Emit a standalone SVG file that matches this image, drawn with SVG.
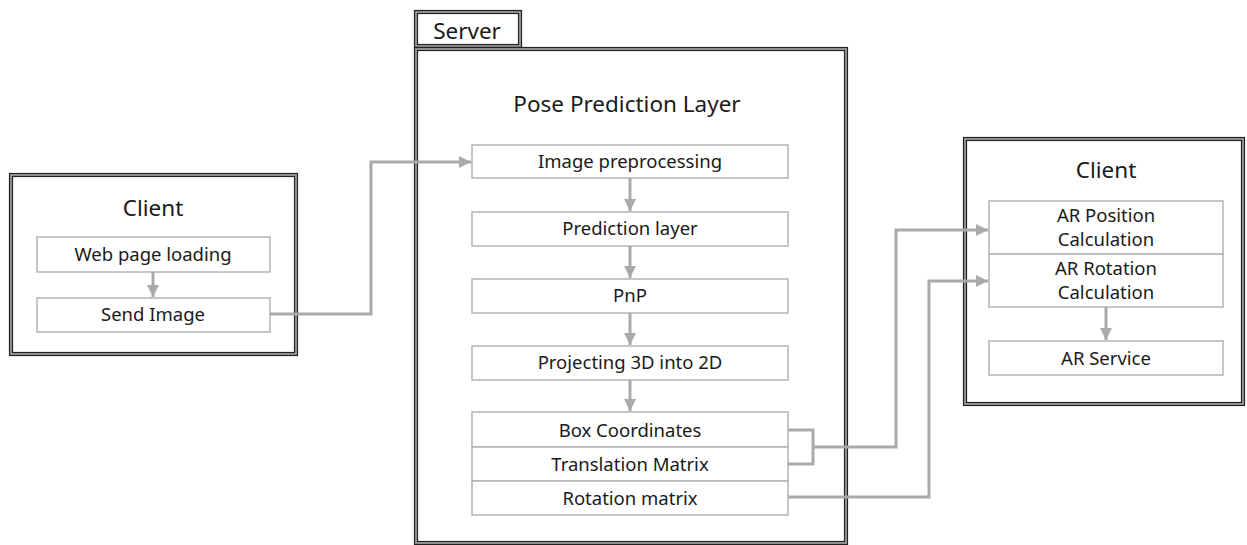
<svg xmlns="http://www.w3.org/2000/svg" width="1247" height="545" viewBox="0 0 1247 545">
<style>
.band{fill:none;stroke:#9a9a9a;stroke-width:4}
.dk{fill:none;stroke:#222;stroke-width:1.2}
.box{fill:#fff;stroke:#b4b4b4;stroke-width:1.5}
.t{font-family:"Noto Sans","Liberation Sans",sans-serif;fill:#1a1a1a;text-anchor:middle}
.lbl{font-size:18.5px}
.ttl{font-size:22.5px}
.conn{fill:none;stroke:#aaaaaa;stroke-width:3}
</style>
<defs>
<marker id="ah" viewBox="0 0 10 10" refX="10" refY="5" markerWidth="4" markerHeight="4" orient="auto" markerUnits="strokeWidth">
<path d="M0,0 L10,5 L0,10 z" fill="#aaaaaa"/>
</marker>
</defs>
<rect width="1247" height="545" fill="#fff"/>

<g id="client-left">
<rect class="band" x="11" y="175" width="285" height="179"/>
<rect class="dk" x="9.5" y="173.5" width="288" height="182"/>
<rect class="dk" x="12.5" y="176.5" width="282" height="176"/>
<text class="t ttl" x="153" y="216">Client</text>
</g>
<g id="web-page-loading">
<rect class="box" x="37" y="237" width="233" height="35"/>
<text class="t lbl" x="153" y="261">Web page loading</text>
</g>
<g id="send-image">
<rect class="box" x="37" y="298" width="233" height="34"/>
<text class="t lbl" x="153" y="321">Send Image</text>
</g>

<g id="server">
<rect class="band" x="416" y="12" width="104" height="34"/>
<rect class="dk" x="414.5" y="10.5" width="107" height="37"/>
<rect class="dk" x="417.5" y="13.5" width="101" height="31"/>
<rect class="band" x="416" y="49" width="430" height="494"/>
<rect class="dk" x="414.5" y="47.5" width="433" height="497"/>
<rect class="dk" x="417.5" y="50.5" width="427" height="491"/>
<text class="t ttl" x="467" y="39">Server</text>
<text class="t ttl" x="627" y="112">Pose Prediction Layer</text>
</g>
<g id="image-preprocessing">
<rect class="box" x="472" y="145" width="316" height="33"/>
<text class="t lbl" x="630" y="168">Image preprocessing</text>
</g>
<g id="prediction-layer">
<rect class="box" x="472" y="212" width="316" height="34"/>
<text class="t lbl" x="630" y="235">Prediction layer</text>
</g>
<g id="pnp">
<rect class="box" x="472" y="279" width="316" height="34"/>
<text class="t lbl" x="630" y="302">PnP</text>
</g>
<g id="projecting">
<rect class="box" x="472" y="346" width="316" height="34"/>
<text class="t lbl" x="630" y="369">Projecting 3D into 2D</text>
</g>
<g id="box-coordinates">
<rect class="box" x="472" y="412" width="316" height="35"/>
<text class="t lbl" x="630" y="437">Box Coordinates</text>
</g>
<g id="translation-matrix">
<rect class="box" x="472" y="447" width="316" height="34"/>
<text class="t lbl" x="630" y="471">Translation Matrix</text>
</g>
<g id="rotation-matrix">
<rect class="box" x="472" y="481" width="316" height="34"/>
<text class="t lbl" x="630" y="505">Rotation matrix</text>
</g>

<g id="client-right">
<rect class="band" x="965" y="139" width="278" height="265"/>
<rect class="dk" x="963.5" y="137.5" width="281" height="268"/>
<rect class="dk" x="966.5" y="140.5" width="275" height="262"/>
<text class="t ttl" x="1106" y="178">Client</text>
</g>
<g id="ar-position">
<rect class="box" x="989" y="201" width="234" height="53"/>
<text class="t lbl" x="1106" y="222" font-size="18">AR Position</text>
<text class="t lbl" x="1106" y="246" font-size="18">Calculation</text>
</g>
<g id="ar-rotation">
<rect class="box" x="989" y="254" width="234" height="53"/>
<text class="t lbl" x="1106" y="275" font-size="18">AR Rotation</text>
<text class="t lbl" x="1106" y="299" font-size="18">Calculation</text>
</g>
<g id="ar-service">
<rect class="box" x="989" y="341" width="234" height="34"/>
<text class="t lbl" x="1106" y="365">AR Service</text>
</g>

<g id="connectors">
<path class="conn" d="M153,272 V297" marker-end="url(#ah)" stroke-width="2.5"/>
<path class="conn" d="M630,178 V211" marker-end="url(#ah)" stroke-width="2.5"/>
<path class="conn" d="M630,246 V278" marker-end="url(#ah)" stroke-width="2.5"/>
<path class="conn" d="M630,313 V345" marker-end="url(#ah)" stroke-width="2.5"/>
<path class="conn" d="M630,380 V411" marker-end="url(#ah)" stroke-width="2.5"/>
<path class="conn" d="M1106,307 V340" marker-end="url(#ah)" stroke-width="2.5"/>
<path class="conn" d="M270,314 H371 V162 H471" marker-end="url(#ah)" stroke-width="2.5"/>
<path class="conn" d="M788,430 H813 V464 H788"/>
<path class="conn" d="M813,447 H896 V230 H988" marker-end="url(#ah)" stroke-width="2.5"/>
<path class="conn" d="M788,497 H929 V281 H988" marker-end="url(#ah)" stroke-width="2.5"/>
</g>
</svg>
